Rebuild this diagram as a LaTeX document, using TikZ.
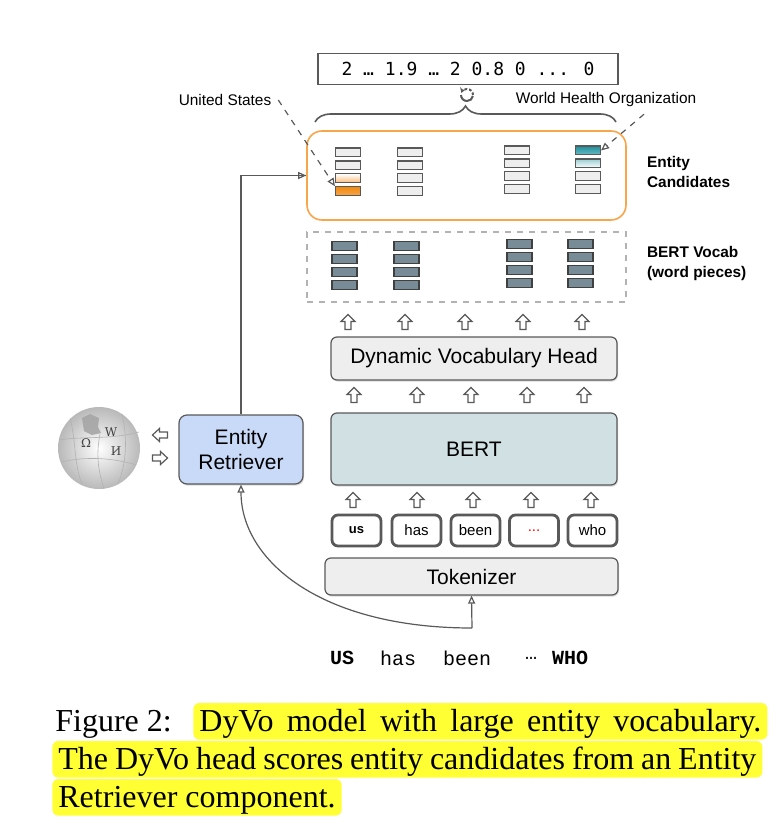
\documentclass[tikz,border=0pt]{standalone}
\usepackage{fontspec}
\setmainfont{Liberation Sans}
\newfontfamily\capfont{Liberation Serif}
\newfontfamily\numfont{DejaVu Sans Mono}
\newfontfamily\wordfont{Liberation Mono}
\newfontfamily\globefont{DejaVu Serif}
\usepackage{xcolor}
\usepackage{tikz}
\definecolor{lin}{HTML}{595959}
\definecolor{lbox}{HTML}{EEEEEE}
\definecolor{org}{HTML}{F9A54A}
\definecolor{orgd}{HTML}{F08A10}
\definecolor{tea}{HTML}{1D929E}
\definecolor{slt}{HTML}{788C98}
\definecolor{brt}{HTML}{D0E0E3}
\definecolor{ret}{HTML}{C9DAF8}
\definecolor{hil}{HTML}{FFFF33}
\usetikzlibrary{positioning,arrows.meta,shadows,decorations.pathreplacing}

\begin{document}
\begin{tikzpicture}[x=0.5pt,y=-0.5pt,
  box/.style={draw=lin, fill=lbox, rounded corners=3pt, line width=0.6pt, inner sep=0,
    drop shadow={opacity=0.3,shadow xshift=0.5pt,shadow yshift=-0.8pt}, font=\fontsize{10.5}{12.5}\selectfont},
  cand/.style={draw=lin, fill=lbox, minimum width=12.5pt, minimum height=4.4pt, inner sep=0, line width=0.6pt},
  vocab/.style={cand, fill=slt, draw=darkgray},
  hot13/.style={top color=white, bottom color=org!75},
  hot14/.style={top color=orgd, bottom color=org},
  hot41/.style={top color=tea, bottom color=tea!65},
  hot42/.style={top color=tea!45, bottom color=white},
  tok/.style={draw=lin, fill=white, rounded corners=3pt, line width=1.4pt, minimum width=24.5pt,
    minimum height=15.5pt, inner sep=0, font=\fontsize{7.5}{9}\selectfont},
  conn/.style={draw=lin, line width=0.6pt, -{Triangle[open,length=4pt,width=3.5pt]}},
  lab/.style={font=\fontsize{7.7}{9.5}\selectfont},
  side/.style={font=\bfseries\fontsize{7.7}{10}\selectfont, align=left, anchor=west},
  word/.style={font=\wordfont\fontsize{10}{12}\selectfont, inner sep=0},
  capline/.style={font=\capfont\fontsize{16}{19}\selectfont, anchor=base west, inner sep=0},
  hilite/.style={capline, fill=hil, rounded corners=3pt, inner xsep=3pt, inner ysep=1.5pt, text height=12.5pt, text depth=2.8pt},
  uparr/.pic={\draw[lin, fill=white, line width=0.6pt] (0,-7.5) -- (7,-0.5) -- (3,-0.5) -- (3,7.5) -- (-3,7.5) -- (-3,-0.5) -- (-7,-0.5) -- cycle;},
  leftarr/.pic={\draw[lin, fill=white, line width=0.6pt] (-7.5,0) -- (-0.5,-6.5) -- (-0.5,-3) -- (7.5,-3) -- (7.5,3) -- (-0.5,3) -- (-0.5,6.5) -- cycle;},
  rightarr/.pic={\draw[lin, fill=white, line width=0.6pt] (7.5,0) -- (0.5,-6.5) -- (0.5,-3) -- (-7.5,-3) -- (-7.5,3) -- (0.5,3) -- (0.5,6.5) -- cycle;}
]
\useasboundingbox (0,0) rectangle (775,828);

% scores on top
\node[draw=lin, line width=0.8pt, minimum width=150pt, minimum height=15.5pt, inner sep=0,
  font=\numfont\fontsize{9}{11}\selectfont] (score) at (468,69) {2 … 1.9 … 2 0.8 0 ... 0};
\draw[lin, line width=1pt] (461,95) arc[start angle=180, end angle=10, radius=6]; % refresh
\draw[lin, line width=1pt, dash pattern=on 1.3pt off 1pt, -{Stealth[length=2.5pt,width=3pt]}] (473,95) arc[start angle=0, end angle=-160, radius=6];
\draw[lin, line width=0.8pt, decorate, decoration={brace, amplitude=8pt}] (315,122) -- (616,122);

% entity candidates
\node[draw=org, line width=0.8pt, rounded corners=7.5pt, minimum width=159.5pt, minimum height=44.5pt] (cands) at (466.5,175.5) {};
\foreach \c/\x/\y in {1/348/152.5, 2/410/152.5, 3/517/150.5, 4/588/150.5}
  \foreach \r in {1,...,4}
    \node[cand, hot\c\r/.try] (c\c r\r) at (\x,\y+12.9*\r-12.9) {};
\node[side] (candlab) at (640,172) {Entity\\Candidates};

% bert vocab
\node[draw=gray!60, dashed, line width=0.8pt, minimum width=159.5pt, minimum height=35pt] (vocabs) at (466.5,267) {};
\foreach \c/\x/\y in {1/344.5/246, 2/406.5/246, 3/519.5/244, 4/580.5/244}
  \foreach \r in {1,...,4}
    \node[vocab] (v\c r\r) at (\x,\y+13*\r-13) {};
\node[side] (vocablab) at (640,264) {BERT Vocab\\(word pieces)};

\node[lab] (us) at (225,100) {United States};
\node[lab] (who) at (606,100) {World Health Organization};
\draw[conn, dashed] (us.east) -- (c1r4.north west);
\draw[conn, dashed] ([xshift=19pt]who.south) -- (c4r1.east);

% model boxes
\node[box, minimum width=143pt, minimum height=21.5pt] (dvh) at (474,358.5) {Dynamic Vocabulary Head};
\node[box, fill=brt, minimum width=143pt, minimum height=36pt] (bert) at (474,449) {BERT};
\node[box, fill=ret, minimum width=62pt, minimum height=34.5pt, align=center, rounded corners=4pt] (retr) at (241,449.5) {Entity\\Retriever};
\node[box, minimum width=146.5pt, minimum height=18.5pt] (tokz) at (471.5,576.5) {Tokenizer};

\foreach \x in {348,405,465,523,582} \pic at (\x,322) {uparr};
\foreach \x in {354,417,471,527,584} \pic at (\x,395) {uparr};
\foreach \x in {353,417,473,531,591} \pic at (\x,500) {uparr};

% tokens
\node[tok] (t1) at (356.5,530.5) {\bfseries\fontsize{6.5}{8}\selectfont us};
\node[tok] (t2) at (416.5,530.5) {has};
\node[tok] (t3) at (475.5,530.5) {been};
\node[tok] (t4) at (534,530.5) {\textcolor{red}{...}};
\node[tok] (t5) at (592.5,530.5) {who};

% input words
\node[word] (w1) at (342,658) {\bfseries US};
\node[word] (w2) at (398,658) {has};
\node[word] (w3) at (467,658) {been};
\node[word] (w4) at (531,658) {…};
\node[word] (w5) at (570,658) {\bfseries WHO};

\coordinate (split) at (472,628);
\draw[conn] (split) -- (tokz.south);
\draw[conn] (split) .. controls (320,628) and (241,560) .. (retr.south);
\draw[conn, -] (retr.north) |- (cands.west);
\draw[conn] (retr.north |- cands.west) -- (cands.west);

% wikipedia globe
\shade[inner color=white, outer color=gray!55] (99,448) circle[radius=41];
\fill[gray!70, opacity=0.9] (82,418) -- (90,414) -- (99,418) -- (98,427) -- (101,433) -- (92,435) -- (84,431) -- cycle;
\draw[gray!60, line width=0.3pt] (60,440) .. controls (80,436) and (110,440) .. (139,432);
\draw[gray!60, line width=0.3pt] (62,462) .. controls (85,456) and (115,458) .. (136,465);
\draw[gray!60, line width=0.3pt] (100,434) .. controls (96,455) and (98,470) .. (104,489);
\draw[gray!60, line width=0.3pt] (122,414) .. controls (128,440) and (126,465) .. (118,484);
\draw[gray!60, line width=0.3pt] (70,418) .. controls (76,440) and (74,465) .. (82,484);
\node[font=\globefont\fontsize{6}{6}\selectfont, text=darkgray] (gom) at (86,443) {Ω};
\node[font=\globefont\fontsize{6}{6}\selectfont, text=darkgray] (gw) at (111,432) {W};
\node[font=\globefont\fontsize{6}{6}\selectfont, text=darkgray] (gi) at (116,451) {И};
\pic at (160,435) {leftarr};
\pic at (160,458) {rightarr};

% caption
\node[capline] (fig) at (55,731) {Figure 2:};
\node[hilite] (cap1) at (193,731) {\makebox[281pt][s]{DyVo model with large entity vocabulary.}};
\node[hilite] (cap2) at (52,769) {\makebox[349pt][s]{The DyVo head scores entity candidates from an Entity}};
\node[hilite] (cap3) at (52,807) {Retriever component.};
\end{tikzpicture}
\end{document}
